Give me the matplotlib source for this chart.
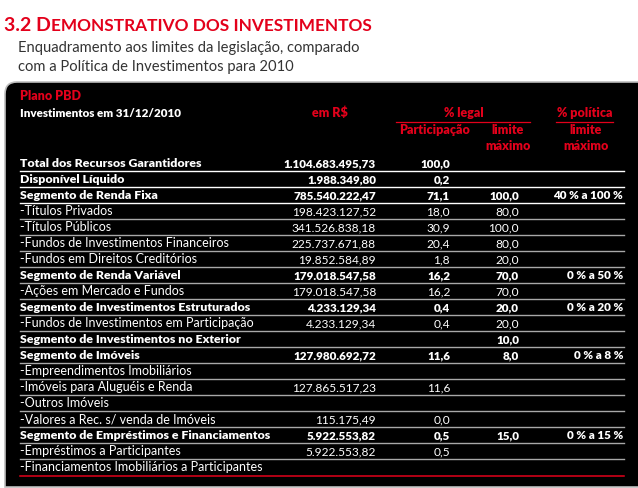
import matplotlib
matplotlib.use("Agg")
import matplotlib.pyplot as plt
from matplotlib.path import Path
from matplotlib.patches import PathPatch

plt.rcParams['font.family'] = ['Lato', 'DejaVu Sans']

RED = '#e3001b'

# table data
labels = [
    'Total dos Recursos Garantidores',
    'Disponível Líquido',
    'Segmento de Renda Fixa',
    '-Títulos Privados',
    '-Títulos Públicos',
    '-Fundos de Investimentos Financeiros',
    '-Fundos em Direitos Creditórios',
    'Segmento de Renda Variável',
    '-Ações em Mercado e Fundos',
    'Segmento de Investimentos Estruturados',
    '-Fundos de Investimentos em Participação',
    'Segmento de Investimentos no Exterior',
    'Segmento de Imóveis',
    '-Empreendimentos Imobiliários',
    '-Imóveis para Aluguéis e Renda',
    '-Outros Imóveis',
    '-Valores a Rec. s/ venda de Imóveis',
    'Segmento de Empréstimos e Financiamentos',
    '-Empréstimos a Participantes',
    '-Financiamentos Imobiliários a Participantes',
]
valores = [
    '1.104.683.495,73', '1.988.349,80', '785.540.222,47', '198.423.127,52',
    '341.526.838,18', '225.737.671,88', '19.852.584,89', '179.018.547,58',
    '179.018.547,58', '4.233.129,34', '4.233.129,34', '', '127.980.692,72',
    '', '127.865.517,23', '', '115.175,49', '5.922.553,82', '5.922.553,82', '',
]
participacao = [
    '100,0', '0,2', '71,1', '18,0', '30,9', '20,4', '1,8', '16,2', '16,2',
    '0,4', '0,4', '', '11,6', '', '11,6', '', '0,0', '0,5', '0,5', '',
]
limite_legal = [
    '', '', '100,0', '80,0', '100,0', '80,0', '20,0', '70,0', '70,0',
    '20,0', '20,0', '10,0', '8,0', '', '', '', '', '15,0', '', '',
]
limite_politica = [
    '', '', '40 % a 100 %', '', '', '', '', '0 % a 50 %', '', '0 % a 20 %',
    '', '', '0 % a 8 %', '', '', '', '', '0 % a 15 %', '', '',
]
negrito = [l.startswith(('Total', 'Dispon', 'Segmento')) for l in labels]

fig = plt.figure(figsize=(6.38, 4.88), dpi=100)
ax = fig.add_axes([0, 0, 1, 1])
ax.set_xlim(0, 638)
ax.set_ylim(488, 0)
ax.axis('off')

# title in small caps (big first letter + small caps rest)
t1 = ax.text(4, 31, '3.2 D', color=RED, fontsize=14, fontweight='bold', va='baseline')
fig.canvas.draw()
bb = t1.get_window_extent(fig.canvas.get_renderer())
x_end = ax.transData.inverted().transform((bb.x1, bb.y0))[0]
ax.text(x_end + 0.5, 31, 'EMONSTRATIVO DOS INVESTIMENTOS', color=RED, fontsize=12.4,
        fontweight='bold', va='baseline')
ax.text(18, 52, 'Enquadramento aos limites da legislação, comparado', color='#333333',
        fontsize=10.6, va='baseline')
ax.text(18, 71, 'com a Política de Investimentos para 2010', color='#333333',
        fontsize=10.6, va='baseline')

# black box with rounded top-left corner
verts = [(5, 487), (5, 94), (5, 82), (17, 82), (639, 82), (639, 487), (5, 487)]
codes = [Path.MOVETO, Path.LINETO, Path.CURVE3, Path.CURVE3, Path.LINETO, Path.LINETO,
         Path.CLOSEPOLY]
ax.add_patch(PathPatch(Path(verts, codes), facecolor='black', edgecolor='#bdbdbd', lw=1.2))

# header
hfs = 9.0
hw = 'heavy'
ax.text(20, 100, 'Plano PBD', color=RED, fontsize=hfs, fontweight=hw, va='baseline')
ax.text(20, 117, 'Investimentos em 31/12/2010', color='white', fontsize=8.4,
        fontweight=hw, va='baseline')
ax.text(330, 117, 'em R$', color=RED, fontsize=hfs, fontweight=hw, va='baseline',
        ha='center')
ax.text(464, 117, '% legal', color=RED, fontsize=hfs, fontweight=hw, va='baseline',
        ha='center')
ax.plot([396, 530], [122, 122], color=RED, lw=0.9)
ax.text(585, 117, '% política', color=RED, fontsize=hfs, fontweight=hw, va='baseline',
        ha='center')
ax.plot([556, 613], [122, 122], color=RED, lw=0.9)
ax.text(435, 134, 'Participação', color=RED, fontsize=hfs, fontweight=hw,
        va='baseline', ha='center')
ax.text(508, 134, 'limite', color=RED, fontsize=hfs, fontweight=hw, va='baseline',
        ha='center')
ax.text(508, 150, 'máximo', color=RED, fontsize=hfs, fontweight=hw, va='baseline',
        ha='center')
ax.text(586, 134, 'limite', color=RED, fontsize=hfs, fontweight=hw, va='baseline',
        ha='center')
ax.text(586, 150, 'máximo', color=RED, fontsize=hfs, fontweight=hw, va='baseline',
        ha='center')

# rows
for i, lab in enumerate(labels):
    base = 167 + 16 * i
    fw = 'heavy' if negrito[i] else 'normal'
    fs = 8.9 if negrito[i] else 9.0
    nfs = 8.4 if negrito[i] else 8.6
    ax.text(20, base, lab, color='white', fontsize=fs, fontweight=fw, va='baseline')
    ax.text(376, base, valores[i], color='white', fontsize=nfs, fontweight=fw,
            va='baseline', ha='right')
    ax.text(450, base, participacao[i], color='white', fontsize=nfs, fontweight=fw,
            va='baseline', ha='right')
    ax.text(519, base, limite_legal[i], color='white', fontsize=nfs, fontweight=fw,
            va='baseline', ha='right')
    ax.text(623, base, limite_politica[i], color='white', fontsize=nfs, fontweight=fw,
            va='baseline', ha='right')
    if i < len(labels) - 1:
        ly = 170.5 + 16 * i
        col = 'white' if i < 3 else '#a8a8a8'
        ax.plot([20, 624], [ly, ly], color=col, lw=1.0)

ax.plot([20, 624], [476, 476], color=RED, lw=1.1)

fig.savefig('out.png', dpi=100)
